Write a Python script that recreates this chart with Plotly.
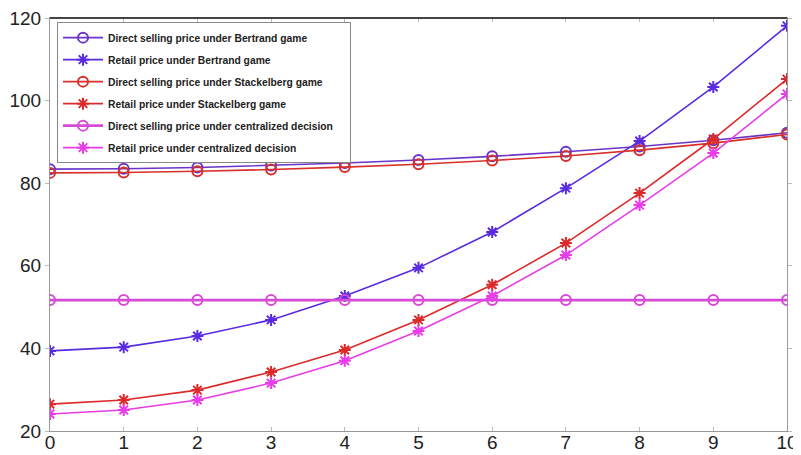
import plotly.graph_objects as go

x = [0, 1, 2, 3, 4, 5, 6, 7, 8, 9, 10]
direct_bertrand = [83.4, 83.5, 83.8, 84.3, 84.9, 85.6, 86.5, 87.6, 88.9, 90.4, 92.2]
retail_bertrand = [39.4, 40.3, 43.0, 46.9, 52.7, 59.5, 68.2, 78.8, 90.2, 103.3, 118.1]
direct_stackelberg = [82.5, 82.6, 82.9, 83.3, 83.9, 84.6, 85.5, 86.6, 88.0, 89.7, 91.8]
retail_stackelberg = [26.5, 27.5, 29.9, 34.3, 39.6, 46.9, 55.4, 65.5, 77.6, 90.7, 105.2]
direct_central = [51.7] * 11
retail_central = [24.1, 25.1, 27.5, 31.6, 37.0, 44.2, 52.7, 62.6, 74.7, 87.3, 101.6]

names = [
    "Direct selling price under Bertrand game",
    "Retail price under Bertrand game",
    "Direct selling price under Stackelberg game",
    "Retail price under Stackelberg game",
    "Direct selling price under centralized decision\u00a0\u00a0\u00a0\u00a0",
    "Retail price under centralized decision",
]
series = [direct_bertrand, retail_bertrand, direct_stackelberg, retail_stackelberg, direct_central, retail_central]
colors = ["#6a35c8", "#5a2ae0", "#d8302a", "#dc2a2a", "#d64ad6", "#e83ce8"]
symbols = ["circle-open", "asterisk-open", "circle-open", "asterisk-open", "circle-open", "asterisk-open"]
widths = [1.6, 1.6, 1.6, 1.6, 2.6, 1.6]

fig = go.Figure()
for i, (n, s, c, sym, w) in enumerate(zip(names, series, colors, symbols, widths)):
    fig.add_trace(go.Scatter(
        x=x, y=s, name=n, mode="lines+markers", legendgroup=str(i),
        line=dict(color=c, width=w),
        marker=dict(symbol=sym, size=10, color=c, line=dict(color=c, width=2)),
    ))

axis_common = dict(showline=True, linecolor="#999999", linewidth=1, mirror="ticks",
                   ticklen=4, tickcolor="#bbbbbb", showgrid=False, zeroline=False,
                   automargin=False, ticklabeloverflow="allow",
                   tickfont=dict(family="Liberation Sans", size=19, color="#222222"))
fig.update_layout(
    width=793, height=447,
    margin=dict(l=42, r=14, t=10, b=24),
    paper_bgcolor="white", plot_bgcolor="white",
    xaxis=dict(range=[0, 10], tickvals=x, ticks="inside", ticklabelstandoff=-6, **axis_common),
    yaxis=dict(range=[20, 120], tickvals=[20, 40, 60, 80, 100, 120], ticks="outside", **axis_common),
    legend=dict(x=0.0095, y=0.99, xanchor="left", yanchor="top",
                bordercolor="#888888", borderwidth=1, bgcolor="white",
                font=dict(family="Liberation Sans", size=10.3, color="#222222", weight="bold"),
                itemwidth=40, tracegroupgap=3),
    showlegend=True,
)
fig.add_shape(type="line", xref="paper", yref="paper", x0=0, x1=1, y0=1, y1=1,
              line=dict(color="#444444", width=2))
fig.write_html("out.html")
